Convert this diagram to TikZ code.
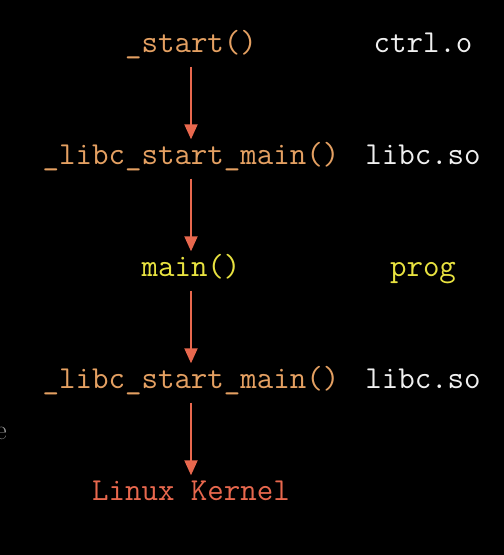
\documentclass[tikz,border=0pt]{standalone}
\usepackage{fontspec}
\usepackage{tikz}
\usetikzlibrary{arrows.meta}
\usetikzlibrary {positioning}
\definecolor{callorange}{RGB}{228,160,98}
\definecolor{callyellow}{RGB}{232,226,64}
\definecolor{callred}{RGB}{232,104,78}
\definecolor{objwhite}{RGB}{240,240,240}
\tikzset{code node/.style={inner sep=3pt,text height=20pt,text depth=7pt,font=\ttfamily\fontsize{32}{37}\selectfont}}
\tikzset{call arrow/.style={-{Triangle[width=13pt,length=15pt,fill=callred]},line width=2pt,color=callred,shorten <=4pt,shorten >=2pt}}

\begin{document}
\begin{tikzpicture}[x=1pt,y=1pt,node distance=112pt,on grid]
	\fill[black] (0,0) rectangle (504,555);
	\useasboundingbox (0,0) rectangle (504,555);
	\node[code node,text=callorange] (start) at (191,509) {\_start()};
	\node[code node,text=callorange] (libc_{1}) [below = of start] {\_libc\_start\_main()};
	\node[code node,text=callyellow] (main) [below = of libc_{1}] {main()};
	\node[code node,text=callorange] (libc_{2}) [below = of main] {\_libc\_start\_main()};
	\node[code node,text=callred] (kernel) [below = of libc_{2}] {Linux Kernel};

	\node[code node,text=objwhite] (crt) [right = 232pt of start] {ctrl.o};
	\node[code node,text=objwhite] (so_{1}) [right = 232pt of libc_{1}] {libc.so};
	\node[code node,text=callyellow] (prog) [right = 232pt of main] {prog};
	\node[code node,text=objwhite] (so_{2}) [right = 232pt of libc_{2}] {libc.so};

	\node[text=gray!80,font=\fontsize{28}{32}\selectfont] (cut) at (1,122) {e};

	\path [call arrow]
	(start) edge (libc_{1})
	(libc_{1}) edge (main)
	(main) edge (libc_{2})
	(libc_{2}) edge (kernel);
\end{tikzpicture}
\end{document}
